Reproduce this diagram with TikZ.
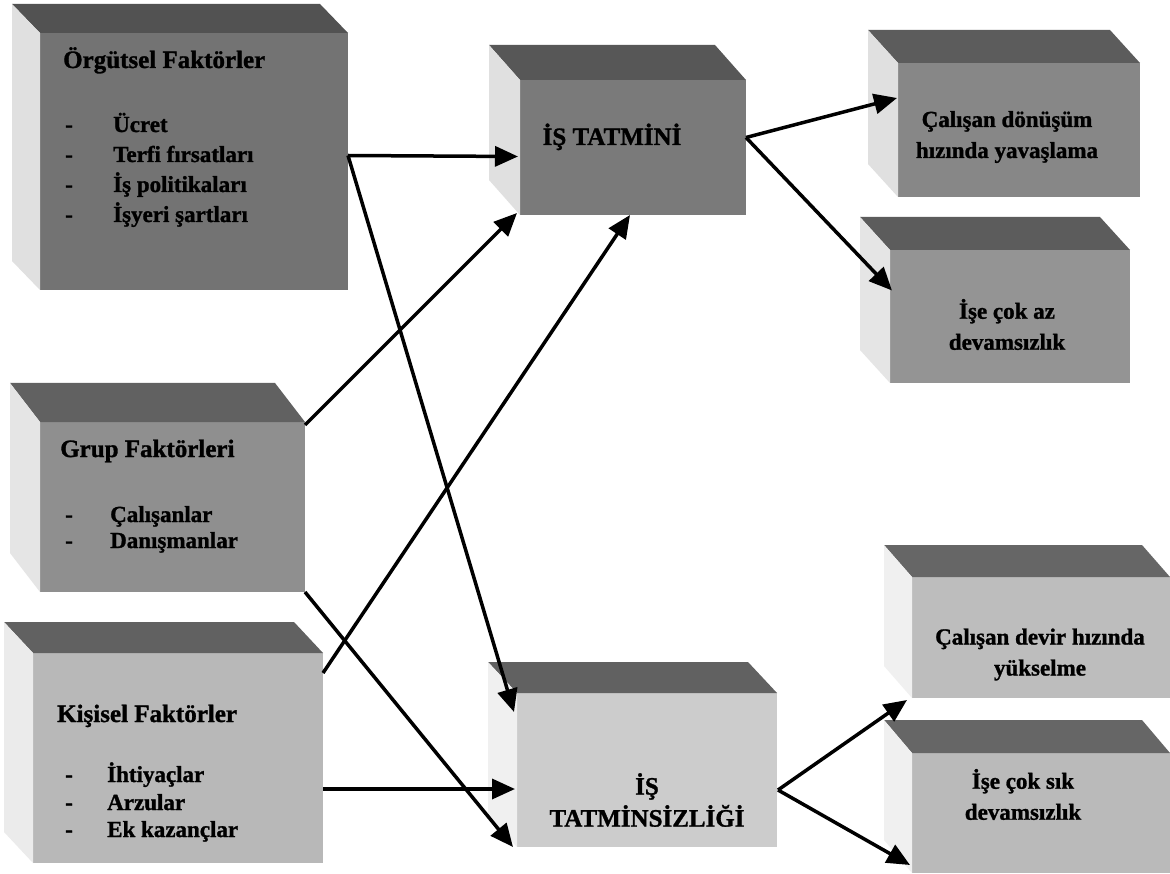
\documentclass[tikz,border=0pt]{standalone}
\usepackage{fontspec}
\setmainfont{Liberation Serif}[BoldFeatures={FakeBold=1.2}]
\usetikzlibrary{arrows.meta,calc}
\tikzset{
  front/.style={draw=none,inner sep=0pt,outer sep=0pt},
  ttl/.style={font=\bfseries\fontsize{25}{32}\selectfont,inner sep=0pt,align=center},
  itm/.style={font=\bfseries\fontsize{23}{31}\selectfont,inner sep=0pt,align=center},
  arr/.style={line width=3.5pt,-{Triangle[length=23pt,width=20pt]}},
}
\newcommand\cubefaces[5]{%
  \fill[#4] (#1.north west) -- ++(#2,#3) -- ($(#1.north east)+(#2,#3)$) -- (#1.north east) -- cycle;
  \fill[#5] (#1.north west) -- ++(#2,#3) -- ($(#1.south west)+(#2,#3)$) -- (#1.south west) -- cycle;
}
\begin{document}
\begin{tikzpicture}[x=1pt,y=-1pt]
\useasboundingbox (0,0) rectangle (1170,874);
\fill[white] (0,0) rectangle (1170,874);

% front faces
\node[front,fill=black!55,minimum width=308pt,minimum height=257pt] (b1) at (194,161.5) {};
\node[front,fill=black!52,minimum width=226pt,minimum height=135pt] (b2) at (633,147.5) {};
\node[front,fill=black!47,minimum width=242pt,minimum height=134pt] (b3) at (1019,130) {};
\node[front,fill=black!42,minimum width=240pt,minimum height=133pt] (b4) at (1010,316.5) {};
\node[front,fill=black!44,minimum width=265pt,minimum height=170pt] (b5) at (172.5,507) {};
\node[front,fill=black!28,minimum width=290pt,minimum height=210pt] (b6) at (178,758) {};
\node[front,fill=black!20,minimum width=260pt,minimum height=154pt] (b7) at (647,770) {};
\node[front,fill=black!26,minimum width=258pt,minimum height=121pt] (b8) at (1041,637.5) {};
\node[front,fill=black!27,minimum width=258pt,minimum height=120pt] (b9) at (1041,813) {};

% top and side faces
\cubefaces{b1}{-28}{-29}{black!68}{black!12}
\cubefaces{b2}{-31}{-35}{black!66}{black!12}
\cubefaces{b3}{-30}{-33}{black!64}{black!12}
\cubefaces{b4}{-30}{-33}{black!64}{black!10}
\cubefaces{b5}{-30}{-39}{black!62}{black!10}
\cubefaces{b6}{-29}{-31}{black!62}{black!8}
\cubefaces{b7}{-29}{-31}{black!62}{black!6}
\cubefaces{b8}{-28}{-32}{black!60}{black!6}
\cubefaces{b9}{-28}{-33}{black!60}{black!6}

% texts box 1
\node[ttl,anchor=base west] (t1) at (63,68) {Örgütsel Faktörler};
\node[itm,anchor=base west] (d11) at (65,132) {-};
\node[itm,anchor=base west] (d12) at (65,162) {-};
\node[itm,anchor=base west] (d13) at (65,192) {-};
\node[itm,anchor=base west] (d14) at (65,222) {-};
\node[itm,anchor=base west] (i11) at (113,132) {Ücret};
\node[itm,anchor=base west] (i12) at (113,162) {Terfi fırsatları};
\node[itm,anchor=base west] (i13) at (113,192) {İş politikaları};
\node[itm,anchor=base west] (i14) at (113,222) {İşyeri şartları};

% box 2
\node[ttl,anchor=base] (t2) at (612,145) {İŞ TATMİNİ};

% box 3, 4
\node[itm] (t3) at (1007,137) {Çalışan dönüşüm\\hızında yavaşlama};
\node[itm] (t4) at (1007,324.5) {İşe çok az\\devamsızlık};

% box 5
\node[ttl,anchor=base west] (t5) at (60,457) {Grup Faktörleri};
\node[itm,anchor=base west] (d51) at (65,522) {-};
\node[itm,anchor=base west] (d52) at (65,548) {-};
\node[itm,anchor=base west] (i51) at (110,522) {Çalışanlar};
\node[itm,anchor=base west] (i52) at (110,548) {Danışmanlar};

% box 6
\node[ttl,anchor=base west] (t6) at (57,722) {Kişisel Faktörler};
\node[itm,anchor=base west] (d61) at (65,782) {-};
\node[itm,anchor=base west] (d62) at (65,810) {-};
\node[itm,anchor=base west] (d63) at (65,837) {-};
\node[itm,anchor=base west] (i61) at (107,782) {İhtiyaçlar};
\node[itm,anchor=base west] (i62) at (107,810) {Arzular};
\node[itm,anchor=base west] (i63) at (107,837) {Ek kazançlar};

% box 7
\node[ttl] (t7) at (647,800) {İŞ\\TATMİNSİZLİĞİ};

% box 8, 9
\node[itm] (t8) at (1040,654.5) {Çalışan devir hızında\\yükselme};
\node[itm] (t9) at (1023,794.5) {İşe çok sık\\devamsızlık};

% arrows
\draw[arr] ([shift={(0,-6)}]b1.east) -- ([shift={(-2,9)}]b2.west);
\draw[arr] ([shift={(0,-6)}]b1.east) -- ([shift={(-3,19)}]b7.north west);
\draw[arr] ([shift={(0,3)}]b5.north east) -- ([shift={(-3,-2)}]b2.south west);
\draw[arr] ([shift={(0,20)}]b6.north east) -- ([shift={(-3,0)}]b2.south);
\draw[arr] (b5.south east) -- ([shift={(-4,0)}]b7.south west);
\draw[arr] ([shift={(0,31)}]b6.east) -- ([shift={(-2,19)}]b7.west);
\draw[arr] ([shift={(0,-10)}]b2.east) -- ([shift={(-1,-32)}]b3.west);
\draw[arr] ([shift={(0,-10)}]b2.east) -- ([shift={(2,-26)}]b4.west);
\draw[arr] ([shift={(1,20)}]b7.east) -- ([shift={(-5,2)}]b8.south west);
\draw[arr] ([shift={(1,20)}]b7.east) -- ([shift={(-2,-8)}]b9.south west);
\end{tikzpicture}
\end{document}
